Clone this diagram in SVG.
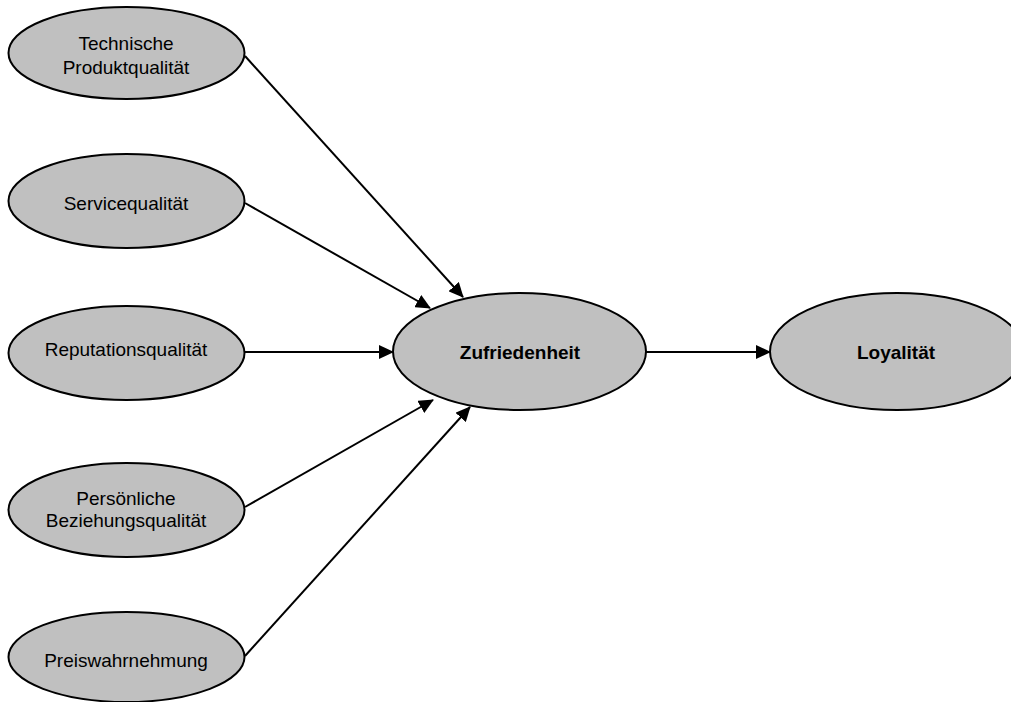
<svg xmlns="http://www.w3.org/2000/svg" width="1011" height="702" viewBox="0 0 1011 702">
  <style>
    .node ellipse { fill: #c0c0c0; stroke: #000; stroke-width: 2; }
    .node text { font-family: "Liberation Sans", Arial, sans-serif; font-size: 19px; fill: #000; text-anchor: middle; }
    .node text.bold { font-weight: bold; }
    .edges line { stroke: #000; stroke-width: 2; marker-end: url(#arrow); }
  </style>
  <defs>
    <marker id="arrow" markerUnits="userSpaceOnUse" markerWidth="16" markerHeight="14" refX="14" refY="7" orient="auto">
      <path d="M0,0 L15,7 L0,14 Z" fill="#000"/>
    </marker>
  </defs>
  <rect width="1011" height="702" fill="#fff"/>

  <!-- connectors -->
  <g id="edges" class="edges">
    <line x1="245" y1="56" x2="463" y2="297"/>
    <line x1="245" y1="203" x2="430" y2="308"/>
    <line x1="245" y1="352" x2="393" y2="352"/>
    <line x1="245" y1="507" x2="433" y2="400"/>
    <line x1="245" y1="656" x2="470" y2="407"/>
    <line x1="646" y1="352" x2="770" y2="352"/>
  </g>

  <!-- antecedents -->
  <g id="technische-produktqualitaet" class="node">
    <ellipse cx="126.5" cy="53" rx="118" ry="46"/>
    <text x="126" y="50">Technische</text>
    <text x="126" y="74">Produktqualität</text>
  </g>
  <g id="servicequalitaet" class="node">
    <ellipse cx="126.5" cy="201" rx="118" ry="47"/>
    <text x="126" y="210">Servicequalität</text>
  </g>
  <g id="reputationsqualitaet" class="node">
    <ellipse cx="126.5" cy="353" rx="118" ry="47"/>
    <text x="126" y="356">Reputationsqualität</text>
  </g>
  <g id="persoenliche-beziehungsqualitaet" class="node">
    <ellipse cx="126.5" cy="510" rx="118" ry="47"/>
    <text x="126" y="505">Persönliche</text>
    <text x="126" y="527">Beziehungsqualität</text>
  </g>
  <g id="preiswahrnehmung" class="node">
    <ellipse cx="126.5" cy="657" rx="118" ry="45"/>
    <text x="126" y="667">Preiswahrnehmung</text>
  </g>

  <!-- outcomes -->
  <g id="zufriedenheit" class="node">
    <ellipse cx="519.5" cy="351.5" rx="126.5" ry="58.5"/>
    <text class="bold" x="520" y="359">Zufriedenheit</text>
  </g>
  <g id="loyalitaet" class="node">
    <ellipse cx="897" cy="351.5" rx="127" ry="58.5"/>
    <text class="bold" x="896" y="359">Loyalität</text>
  </g>
</svg>
